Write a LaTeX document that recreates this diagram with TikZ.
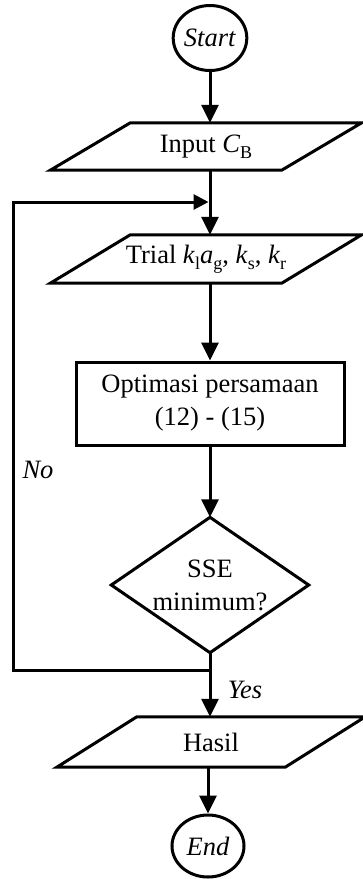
\documentclass[tikz,border=0pt]{standalone}
\usepackage{fontspec}
\setmainfont{Liberation Serif}
\usetikzlibrary{arrows.meta,shapes.geometric,calc}
\newcommand\sbs[1]{\raisebox{-0.22em}{\fontsize{18}{18}\selectfont #1}}
\begin{document}
\begin{tikzpicture}[x=1pt,y=-1pt,
  every node/.style={font=\fontsize{26.5}{33}\selectfont, inner sep=0pt},
  ln/.style={line width=3pt},
  arr/.style={line width=3pt,-{Triangle[length=18pt,width=17pt]}},
  arrs/.style={line width=3pt,-{Triangle[length=15pt,width=15pt]}},
  term/.style={ellipse, draw, line width=3pt},
  iobox/.style={rectangle, minimum width=231pt},
  proc/.style={rectangle, draw, line width=3pt, align=center},
  decbox/.style={rectangle, align=center}]
\useasboundingbox (0,0) rectangle (363,879);

\node[term, minimum width=65pt, minimum height=65pt] (start) at (210,38) {\textit{Start}};
\node[iobox, minimum height=47pt] (input) at (206,146.5) {Input \textit{C}\sbs{B}};
\node[iobox, minimum height=48pt] (trial) at (206,259) {Trial \textit{k}\sbs{l}\textit{a}\sbs{g}, \textit{k}\sbs{s}, \textit{k}\sbs{r}};
\node[proc, minimum width=268pt, minimum height=83pt] (opt) at (210,403.5) {Optimasi persamaan\\(12) - (15)};
\node[decbox, minimum width=197pt, minimum height=135pt] (dia) at (210,585) {SSE\\minimum?};
\node[iobox, minimum width=228pt, minimum height=50pt] (hasil) at (211,742) {Hasil};
\node[term, minimum width=72pt, minimum height=62pt] (end) at (208,846) {\textit{End}};

\foreach \n in {input,trial,hasil}
  \draw[ln] ($(\n.south west)+(-40,0)$) -- ($(\n.north west)+(40,0)$) -- ($(\n.north east)+(40,0)$) -- ($(\n.south east)+(-40,0)$) -- cycle;
\draw[ln] (dia.north) -- (dia.east) -- (dia.south) -- (dia.west) -- cycle;

\coordinate (jn) at (210,670);
\coordinate (cl) at (13,670);
\coordinate (ct) at (13,202);
\coordinate (ce) at (208.5,202);

\draw[arr] (start.south) -- (start.south |- input.north);
\draw[arr] (input.south -| start) -- (trial.north -| start);
\draw[arr] (trial.south -| start) -- (opt.north);
\draw[arr] (opt.south) -- (dia.north);
\draw[arr] (dia.south) -- (hasil.north -| dia.south);
\draw[arrs] (jn) -- (cl) -- (ct) -- (ce);
\draw[arr] (hasil.south -| end) -- (end.north);

\node (no) at (38,470) {\textit{No}};
\node (yes) at (245,690) {\textit{Yes}};
\end{tikzpicture}
\end{document}
